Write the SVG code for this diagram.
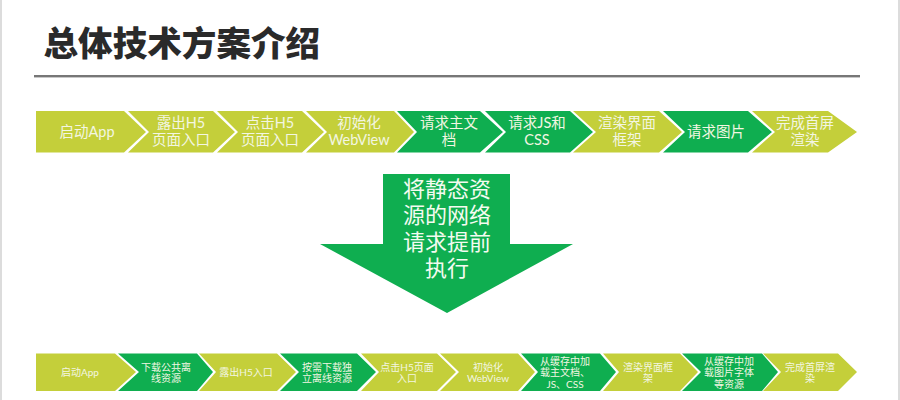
<svg xmlns="http://www.w3.org/2000/svg" width="900" height="400" viewBox="0 0 900 400">
<style>
text{font-family:Lato,"Noto Sans CJK SC",sans-serif;text-anchor:middle;fill:#f3f6e2}
.l{fill:#c4cf3a}.g{fill:#0fae50}
.t{font-size:14.5px}.b{font-size:10px}
#title text{font-size:34.6px;font-weight:900;fill:#2a2a2a;text-anchor:start;font-family:"Noto Sans CJK SC",sans-serif}
#arrow text{font-size:22px;fill:#f4fbf0}
</style>
<rect width="900" height="400" fill="#fff"/>
<rect x="0" y="0" width="2" height="400" fill="#dcdcdc"/>
<rect x="898" y="0" width="2" height="400" fill="#dcdcdc"/>
<g id="title"><text x="43.5" y="56">总体技术方案介绍</text><rect x="34" y="75" width="826" height="2.4" fill="#777"/></g>
<g id="arrow"><polygon class="g" points="383,174 510,174 510,244 573,244 447,313 320,244 383,244"/>
<text x="447" y="197">将静态资</text><text x="447" y="223">源的网络</text><text x="447" y="249.5">请求提前</text><text x="447" y="276">执行</text></g>
<g id="t1"><polygon class="l" points="36,111 124,111 146,132 124,152.5 36,152.5"/><text class="t" x="87" y="137">启动App</text></g>
<g id="t2"><polygon class="l" points="128,111 213,111 235,132 213,152.5 128,152.5 149,132"/><text class="t" x="181" y="128">露出H5</text><text class="t" x="181" y="145">页面入口</text></g>
<g id="t3"><polygon class="l" points="217,111 302,111 324,132 302,152.5 217,152.5 238,132"/><text class="t" x="270" y="128">点击H5</text><text class="t" x="270" y="145">页面入口</text></g>
<g id="t4"><polygon class="l" points="306,111 394,111 414,132 394,152.5 306,152.5 327,132"/><text class="t" x="359" y="128">初始化</text><text class="t" x="359" y="145">WebView</text></g>
<g id="t5"><polygon class="g" points="397,111 480,111 503,132 480,152.5 397,152.5 417,132"/><text class="t" x="449" y="128">请求主文</text><text class="t" x="449" y="145">档</text></g>
<g id="t6"><polygon class="g" points="485,111 570,111 593,132 570,152.5 485,152.5 506,132"/><text class="t" x="537" y="128">请求JS和</text><text class="t" x="537" y="145">CSS</text></g>
<g id="t7"><polygon class="l" points="573,111 659,111 682,132 659,152.5 573,152.5 596,132"/><text class="t" x="627" y="128">渲染界面</text><text class="t" x="627" y="145">框架</text></g>
<g id="t8"><polygon class="g" points="663,111 748,111 772,132 748,152.5 663,152.5 685,132"/><text class="t" x="716" y="137">请求图片</text></g>
<g id="t9"><polygon class="l" points="752,111 828,111 857,132 828,152.5 752,152.5 775,132"/><text class="t" x="805" y="128">完成首屏</text><text class="t" x="805" y="145">渲染</text></g>
<g id="b1"><polygon class="l" points="36,353.5 115,353.5 136,372 115,391 36,391"/><text class="b" x="80" y="376">启动App</text></g>
<g id="b2"><polygon class="g" points="118,353.5 197,353.5 213,372 197,391 118,391 139,372"/><text class="b" x="166" y="371">下载公共离</text><text class="b" x="166" y="382">线资源</text></g>
<g id="b3"><polygon class="l" points="199,353.5 277,353.5 296,372 277,391 199,391 216,372"/><text class="b" x="246" y="376">露出H5入口</text></g>
<g id="b4"><polygon class="g" points="280,353.5 357,353.5 376,372 357,391 280,391 299,372"/><text class="b" x="327" y="371">按需下载独</text><text class="b" x="327" y="382">立离线资源</text></g>
<g id="b5"><polygon class="l" points="361,353.5 437,353.5 456,372 437,391 361,391 379,372"/><text class="b" x="407" y="371">点击H5页面</text><text class="b" x="407" y="382">入口</text></g>
<g id="b6"><polygon class="l" points="440,353.5 518,353.5 535,372 518,391 440,391 459,372"/><text class="b" x="488" y="371">初始化</text><text class="b" x="488" y="382">WebView</text></g>
<g id="b7"><polygon class="g" points="521,353.5 600,353.5 616,372 600,391 521,391 538,372"/><text class="b" x="565" y="364.5">从缓存中加</text><text class="b" x="565" y="376">载主文档、</text><text class="b" x="565" y="388">JS、CSS</text></g>
<g id="b8"><polygon class="l" points="603,353.5 680,353.5 698,372 680,391 603,391 619,372"/><text class="b" x="648" y="371">渲染界面框</text><text class="b" x="648" y="382">架</text></g>
<g id="b9"><polygon class="g" points="682,353.5 762,353.5 778,372 762,391 682,391 701,372"/><text class="b" x="729" y="364.5">从缓存中加</text><text class="b" x="729" y="376">载图片字体</text><text class="b" x="729" y="388">等资源</text></g>
<g id="b10"><polygon class="l" points="763,353.5 838,353.5 857,372 838,391 763,391 781,372"/><text class="b" x="810" y="371">完成首屏渲</text><text class="b" x="810" y="382">染</text></g>
</svg>
